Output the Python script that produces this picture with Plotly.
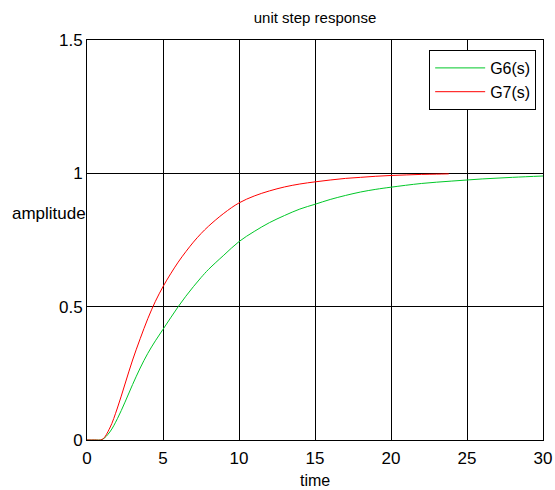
import plotly.graph_objects as go

# Data
t_g6 = [0, 0.5, 1, 1.5, 2, 2.5, 3, 3.5, 4, 4.5, 5, 5.5, 6, 6.5, 7, 7.5, 8, 9, 10,
        11, 12, 13, 14, 15, 16, 17, 18, 19, 20, 22, 24, 26, 28, 30]
y_g6 = [0, 0, 0.002, 0.03, 0.08, 0.142, 0.208, 0.27, 0.325, 0.372, 0.415, 0.458, 0.5,
        0.539, 0.575, 0.609, 0.64, 0.693, 0.744, 0.782, 0.815, 0.842, 0.866, 0.884,
        0.902, 0.917, 0.93, 0.94, 0.948, 0.962, 0.971, 0.979, 0.985, 0.99]

t_g7 = [0, 0.5, 1, 1.5, 2, 2.5, 3, 3.5, 4, 4.5, 5, 5.5, 6, 6.5, 7, 7.5, 8, 9, 10,
        11, 12, 13, 14, 15, 16, 17, 18, 19, 20, 21, 22, 23, 23.8]
y_g7 = [0, 0, 0.002, 0.045, 0.12, 0.21, 0.30, 0.38, 0.455, 0.52, 0.575, 0.623, 0.667,
        0.706, 0.742, 0.774, 0.802, 0.85, 0.889, 0.915, 0.934, 0.949, 0.96, 0.968,
        0.975, 0.981, 0.985, 0.989, 0.992, 0.994, 0.996, 0.997, 0.998]

x_ticks = [0, 5, 10, 15, 20, 25, 30]
y_ticks = [0, 0.5, 1, 1.5]
y_tick_text = ["0", "0.5", "1", "1.5"]

FONT = "Liberation Sans, Arial, sans-serif"

fig = go.Figure()
fig.add_trace(go.Scatter(x=t_g6, y=y_g6, mode="lines", name="G6(s)",
                         line=dict(color="rgb(0,200,40)", width=1, shape="spline")))
fig.add_trace(go.Scatter(x=t_g7, y=y_g7, mode="lines", name="G7(s)",
                         line=dict(color="rgb(255,0,0)", width=1, shape="spline")))

axis_common = dict(showline=True, linecolor="black", linewidth=1, mirror="ticks",
                   ticks="inside", ticklen=5, tickcolor="black",
                   showgrid=True, gridcolor="black", gridwidth=1,
                   zeroline=False, automargin=False,
                   tickfont=dict(family=FONT, size=17, color="black"))

fig.update_layout(
    width=555, height=490,
    margin=dict(l=87, r=12, t=40, b=50),
    paper_bgcolor="white", plot_bgcolor="white",
    font=dict(family=FONT, color="black"),
    title=dict(text="unit step response", x=0.5, xref="paper", y=1 - 18 / 490,
               yref="container", yanchor="middle", xanchor="center",
               font=dict(family=FONT, size=15, color="black")),
    xaxis=dict(range=[0, 30], tickvals=x_ticks, ticklabelstandoff=3, **axis_common),
    yaxis=dict(range=[0, 1.5], tickvals=y_ticks, ticktext=y_tick_text,
               ticklabelstandoff=0, **axis_common),
    legend=dict(x=0.985, y=0.975, xanchor="right", yanchor="top",
                bgcolor="white", bordercolor="black", borderwidth=1,
                font=dict(family=FONT, size=16, color="black"),
                itemwidth=50, tracegroupgap=0),
    showlegend=True,
)

fig.add_annotation(text="amplitude", xref="paper", yref="paper",
                   x=(49 - 87) / 456, y=(440 - 213) / 400, xanchor="center", yanchor="middle",
                   showarrow=False, font=dict(family=FONT, size=17, color="black"))
fig.add_annotation(text="time", xref="paper", yref="paper",
                   x=0.5, y=(440 - 480) / 400, xanchor="center", yanchor="middle",
                   showarrow=False, font=dict(family=FONT, size=16, color="black"))

fig.write_html("out.html")
